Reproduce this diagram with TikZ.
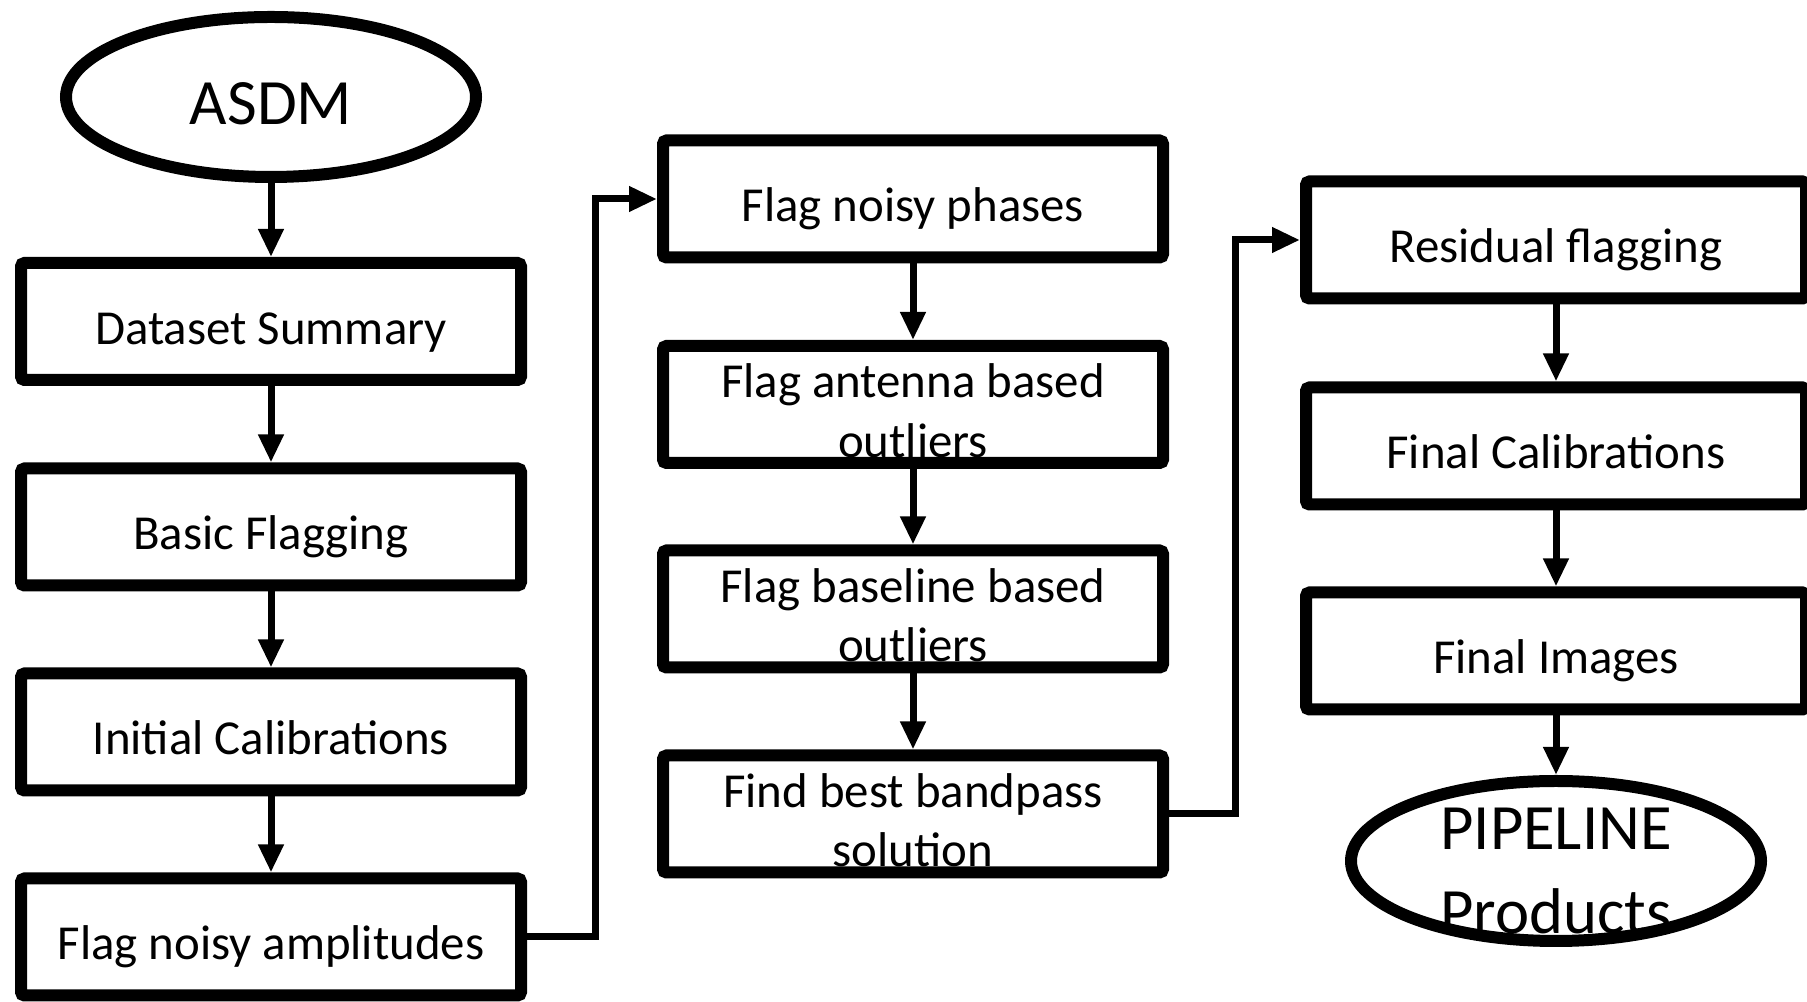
\documentclass[tikz,border=0pt]{standalone}
\usepackage{fontspec}
\setmainfont{Carlito}
\usetikzlibrary{shapes.geometric,arrows.meta}

\begin{document}
\begin{tikzpicture}[
    stage/.style={draw,line width=0.12cm,rounded corners=1pt,minimum width=5cm,minimum height=1.17cm,inner sep=0pt,font=\fontsize{13.9pt}{17pt}\selectfont},
    oneline/.style={text height=0.5cm,text depth=0.04cm},
    twoline/.style={align=center,text height=1.06cm},
    terminal/.style={draw,ellipse,line width=0.12cm,minimum width=4.1cm,minimum height=1.6cm,inner sep=0pt,font=\fontsize{18.4pt}{24pt}\selectfont},
    flow/.style={line width=0.07cm,-{Triangle[length=0.28cm,width=0.24cm]}}
]
            \useasboundingbox (0, 0) rectangle (18.07, 10.02);

            \node[terminal,text height=0.6cm,text depth=0.048cm] (A) at (2.71, 9.05) {ASDM};

            \node[stage,oneline] (B) at (2.71, 6.805) {Dataset Summary};
            \node[stage,oneline] (C) at (2.71, 4.75) {Basic Flagging};
            \node[stage,oneline] (D) at (2.71, 2.70) {Initial Calibrations};
            \node[stage,oneline] (E) at (2.71, 0.65) {Flag noisy amplitudes};

            \node[stage,oneline] (F) at (9.13, 8.03) {Flag noisy phases};
            \node[stage,twoline] (G) at (9.13, 5.975) {Flag antenna based\\outliers};
            \node[stage,twoline] (H) at (9.13, 3.93) {Flag baseline based\\outliers};
            \node[stage,twoline] (I) at (9.13, 1.88) {Find best bandpass\\solution};

            \node[stage,oneline] (J) at (15.56, 7.62) {Residual flagging};
            \node[stage,oneline] (K) at (15.56, 5.56) {Final Calibrations};
            \node[stage,oneline] (L) at (15.56, 3.51) {Final Images};
            \node[terminal] (M) at (15.56, 1.41) {};
            \node[font=\fontsize{18.4pt}{24pt}\selectfont,align=center,inner sep=0pt] (N) at ([yshift=-0.1cm]M.center) {PIPELINE\\Products};

            \draw[flow] (A) -- (B);
            \draw[flow] (B) -- (C);
            \draw[flow] (C) -- (D);
            \draw[flow] (D) -- (E);
            \draw[flow] (E.east) -- ++(0.68, 0) |- (F.west);

            \draw[flow] (F) -- (G);
            \draw[flow] (G) -- (H);
            \draw[flow] (H) -- (I);
            \draw[flow] (I.east) -- ++(0.665, 0) |- (J.west);

            \draw[flow] (J) -- (K);
            \draw[flow] (K) -- (L);
            \draw[flow] (L) -- (M);
        \end{tikzpicture}
\end{document}
